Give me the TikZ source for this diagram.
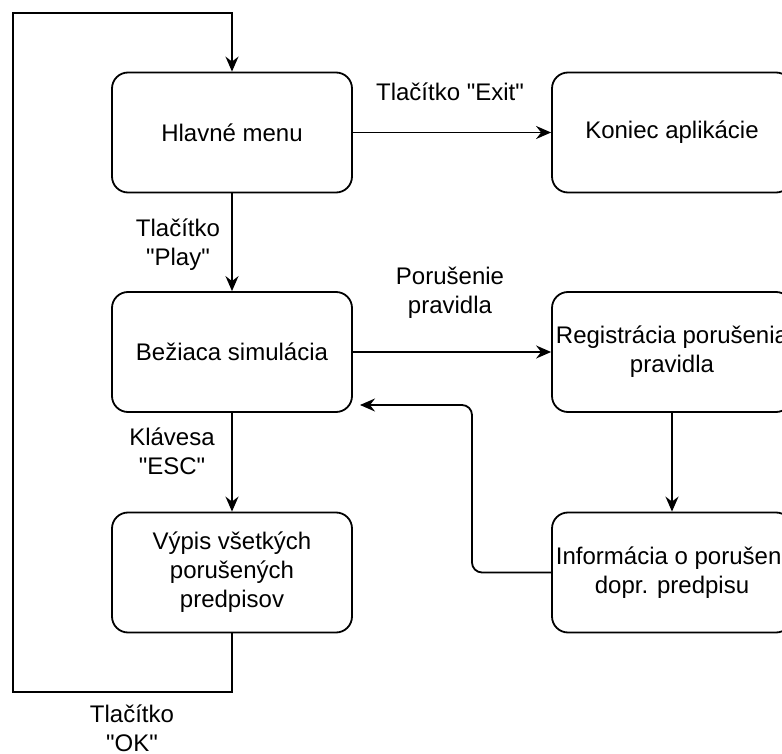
\documentclass[tikz,border=0pt]{standalone}
\usepackage{fontspec}
\setmainfont{Liberation Sans}[Ligatures=TeXOff]
\usetikzlibrary{arrows.meta}
\begin{document}
\begin{tikzpicture}[x=1pt,y=-1pt,
  box/.style={draw, line width=1.8pt, rounded corners=16pt, minimum width=240pt, minimum height=120pt, align=center, inner sep=0pt, font=\fontsize{24}{29}\selectfont},
  lbl/.style={align=center, inner sep=0pt, font=\fontsize{24}{29}\selectfont},
  conn/.style={line width=1.8pt, -{Stealth[length=15pt,width=13pt,inset=5pt]}},
  plain/.style={line width=1.8pt}]
\useasboundingbox (0,0) rectangle (782,754);
\clip (0,0) rectangle (782,754);
\node[box] (hlavne) at (232,132.5) {Hlavné menu};
\node[box] (koniec) at (672,132.5) {Koniec aplikácie};
\node[box] (beziaca) at (232,352) {Bežiaca simulácia};
\node[box] (reg) at (672,352) {Registrácia porušenia\\pravidla};
\node[box] (vypis) at (232,572.5) {Výpis všetkých\\porušených\\predpisov};
\node[box] (info) at (672,572.5) {Informácia o porušení\\dopr. predpisu};

\coordinate (c1) at (232,692);
\coordinate (c2) at (13,692);
\coordinate (c3) at (13,13);
\coordinate (c4) at (232,13);
\coordinate (r1) at (472,572.5);
\coordinate (r2) at (472,405);
\coordinate (ret) at (360,405);

\draw[conn] (hlavne) -- (koniec);
\draw[conn] (hlavne) -- (beziaca);
\draw[conn] (beziaca) -- (reg);
\draw[conn] (beziaca) -- (vypis);
\draw[conn] (reg) -- (info);
\draw[conn] (vypis.south) -- (c1) -- (c2) -- (c3) -- (c4) -- (hlavne.north);
\draw[conn, rounded corners=10pt] (info.west) -- (r1) -- (r2) -- (ret);

\node[lbl] (l1) at (450,92) {Tlačítko "Exit"};
\node[lbl] (l2) at (178,245) {Tlačítko\\"Play"};
\node[lbl] (l3) at (450,292.5) {Porušenie\\pravidla};
\node[lbl] (l4) at (172,451) {Klávesa\\"ESC"};
\node[lbl] (l5) at (132,728) {Tlačítko\\"OK"};
\end{tikzpicture}
\end{document}
